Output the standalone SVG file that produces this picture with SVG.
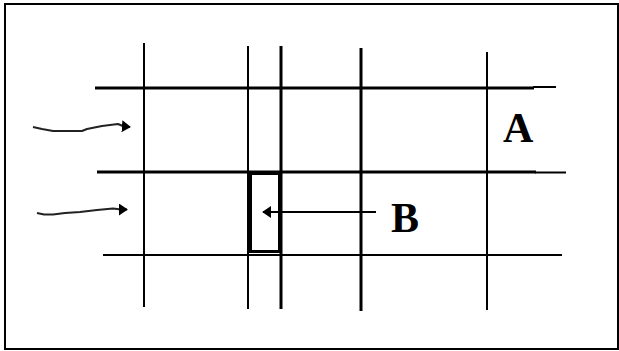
<svg xmlns="http://www.w3.org/2000/svg" width="619" height="351" viewBox="0 0 619 351">
  <style>
    .thin { stroke: #000; stroke-width: 2; fill: none; }
    .thick { stroke: #000; stroke-width: 3; fill: none; }
    .wave { stroke: #222; stroke-width: 2; fill: none; stroke-linejoin: round; }
    .lbl { font-family: "Liberation Serif", "Times New Roman", serif; font-weight: bold; font-size: 42px; fill: #000; }
  </style>
  <defs>
    <marker id="ah" viewBox="0 0 10 10" refX="9" refY="5" markerWidth="9" markerHeight="12" markerUnits="userSpaceOnUse" orient="auto" preserveAspectRatio="none">
      <path d="M0,0 L10,5 L0,10 Z" fill="#000"/>
    </marker>
    <marker id="ahs" viewBox="0 0 10 10" refX="9" refY="5" markerWidth="9" markerHeight="12" markerUnits="userSpaceOnUse" orient="auto" preserveAspectRatio="none">
      <path d="M0,0 L10,5 L0,10 Z" fill="#000"/>
    </marker>
  </defs>
  <rect x="0" y="0" width="619" height="351" fill="#fff"/>
  <rect id="frame" x="5" y="4" width="613" height="345" fill="none" stroke="#000" stroke-width="2"/>

  <g id="grid">
    <line class="thick" x1="95" y1="88" x2="534" y2="88"/>
    <line class="thin" x1="533" y1="87" x2="556" y2="87"/>
    <line class="thick" x1="97" y1="172" x2="536" y2="172"/>
    <line class="thin" x1="535" y1="172.5" x2="566" y2="172.5"/>
    <line class="thin" x1="103" y1="255" x2="562" y2="255"/>

    <line class="thin" x1="144" y1="43" x2="144" y2="307"/>
    <line class="thin" x1="248" y1="46" x2="248" y2="309"/>
    <line class="thick" x1="281" y1="46" x2="281" y2="309"/>
    <line class="thick" x1="361" y1="48" x2="361" y2="311"/>
    <line class="thin" x1="487" y1="52" x2="487" y2="310"/>
  </g>

  <g id="node-B-cell">
    <rect x="250.5" y="173.5" width="29" height="78" fill="none" stroke="#000" stroke-width="3"/>
  </g>

  <g id="node-A">
    <text class="lbl" x="503" y="142">A</text>
  </g>
  <g id="node-B">
    <text class="lbl" x="391" y="232">B</text>
  </g>

  <g id="connectors">
    <line x1="376" y1="212" x2="263" y2="212" stroke="#000" stroke-width="2" marker-end="url(#ahs)"/>
    <polyline class="wave" points="33,127 42,129 53,131 82,131 87,129 102,126 118,124 124,126.5 130,127" marker-end="url(#ah)"/>
    <polyline class="wave" points="37,213 44,214.5 53,214.5 65,213 80,212 97,210 113,208.5 121,209.5 127,209.5" marker-end="url(#ah)"/>
  </g>
</svg>
